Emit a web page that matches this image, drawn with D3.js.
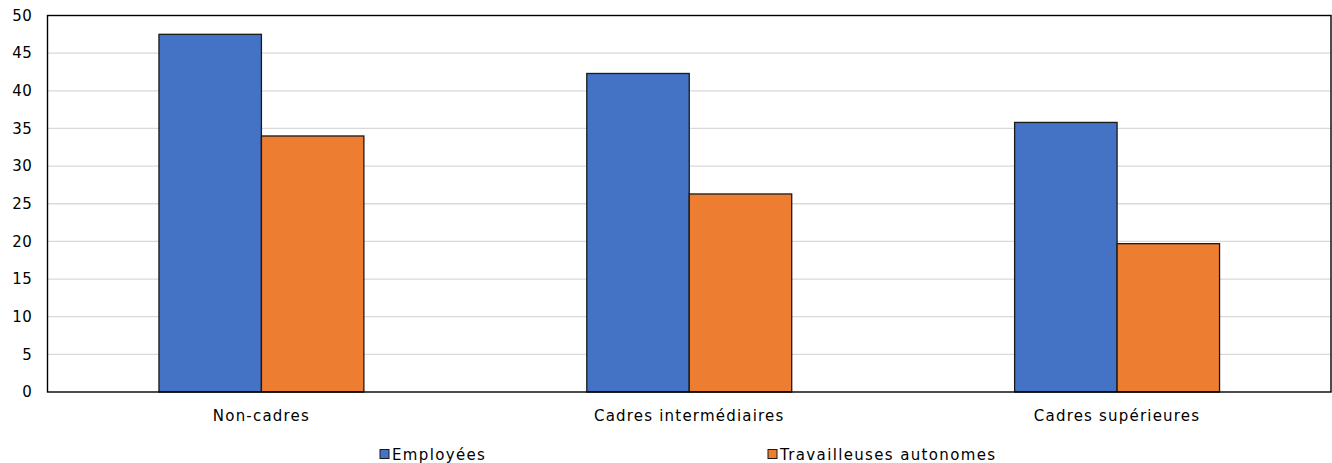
<!DOCTYPE html>
<html>
<head>
<meta charset="utf-8">
<script src="https://cdn.jsdelivr.net/npm/d3@7"></script>
<style>
  html, body { margin: 0; padding: 0; background: #fff; }
  svg { display: block; font-family: "DejaVu Sans", Verdana, sans-serif; }
</style>
</head>
<body>
<svg id="chart" width="1332" height="463"></svg>
<script>
// Categories and series
const categories = ["Non-cadres", "Cadres intermédiaires", "Cadres supérieures"];
const seriesNames = ["Employées", "Travailleuses autonomes"];
const employees = [47.5, 42.3, 35.8];
const selfEmployed = [34.0, 26.3, 19.7];
const yTicks = [0, 5, 10, 15, 20, 25, 30, 35, 40, 45, 50];
const colors = ["#4472C4", "#ED7D31"];

const svg = d3.select("#chart");
const plot = { left: 47.5, right: 1331, top: 15.5, bottom: 392 };

const x = d3.scaleBand()
  .domain(categories)
  .range([plot.left, plot.right])
  .paddingInner(0).paddingOuter(0);

const groupWidth = x.bandwidth() * 0.479;
const xs = d3.scaleBand()
  .domain(seriesNames)
  .range([0, groupWidth]);

const y = d3.scaleLinear().domain([0, 50]).range([plot.bottom, plot.top]);

// Gridlines
svg.append("g")
  .selectAll("line")
  .data(yTicks.filter(d => d > 0 && d < 50))
  .join("line")
  .attr("x1", plot.left).attr("x2", plot.right)
  .attr("y1", d => y(d)).attr("y2", d => y(d))
  .attr("stroke", "#d9d9d9").attr("stroke-width", 1.3);

// Y axis labels
const yAxis = d3.axisLeft(y).tickValues(yTicks).tickSize(0).tickPadding(15);
const yg = svg.append("g").attr("transform", `translate(${plot.left},0)`).call(yAxis);
yg.select(".domain").remove();
yg.selectAll("text")
  .attr("font-family", "DejaVu Sans, Verdana, sans-serif")
  .attr("font-size", 15).attr("fill", "#000")
  .attr("letter-spacing", "0.6px");

// Bars
const rows = categories.map((c, i) => ({ cat: c, values: [employees[i], selfEmployed[i]] }));
const groups = svg.append("g").selectAll("g")
  .data(rows)
  .join("g")
  .attr("transform", d => `translate(${x(d.cat) + (x.bandwidth() - groupWidth) / 2},0)`);

groups.selectAll("rect")
  .data(d => d.values.map((v, j) => ({ name: seriesNames[j], v, j })))
  .join("rect")
  .attr("x", d => xs(d.name))
  .attr("width", xs.bandwidth())
  .attr("y", d => y(d.v))
  .attr("height", d => y(0) - y(d.v))
  .attr("fill", d => colors[d.j])
  .attr("stroke", "#1a1a1a").attr("stroke-width", 1.3);

// Plot frame
svg.append("rect")
  .attr("x", plot.left).attr("y", plot.top)
  .attr("width", plot.right - plot.left).attr("height", plot.bottom - plot.top)
  .attr("fill", "none").attr("stroke", "#000").attr("stroke-width", 1.4);

// X axis labels
const xAxis = d3.axisBottom(x).tickSize(0).tickPadding(18);
const xg = svg.append("g").attr("transform", `translate(0,${plot.bottom})`).call(xAxis);
xg.select(".domain").remove();
xg.selectAll("text")
  .attr("font-family", "DejaVu Sans, Verdana, sans-serif")
  .attr("font-size", 15).attr("fill", "#000")
  .attr("letter-spacing", "1.2px");

// Legend
const legendX = [380, 768];
const legend = svg.append("g").selectAll("g")
  .data(seriesNames)
  .join("g")
  .attr("transform", (d, i) => `translate(${legendX[i]},454)`);
legend.append("rect")
  .attr("x", 0).attr("y", -4.5).attr("width", 9).attr("height", 9)
  .attr("fill", (d, i) => colors[i]).attr("stroke", "#1a1a1a").attr("stroke-width", 1);
legend.append("text")
  .attr("x", 12).attr("y", 0.5).attr("dy", "0.35em")
  .attr("font-size", 15).attr("fill", "#000")
  .attr("letter-spacing", "1.35px")
  .text(d => d);
</script>
</body>
</html>
